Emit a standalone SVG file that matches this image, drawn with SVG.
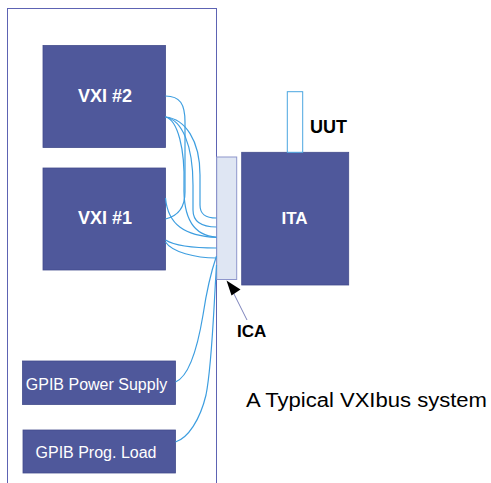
<svg xmlns="http://www.w3.org/2000/svg" width="491" height="483" viewBox="0 0 491 483">
<style>
.box{fill:#4f589b;stroke:#434c8c;stroke-width:0.8}
.lbl{font-family:"Liberation Sans",Arial,sans-serif;fill:#ffffff;text-anchor:middle}
.b{font-weight:bold}
.wire{fill:none;stroke:#3d9ee0;stroke-width:1.2}
.cap{font-family:"Liberation Sans",Arial,sans-serif;fill:#000000}
</style>
<rect width="491" height="483" fill="#ffffff"/>
<g id="frame">
<rect x="7.5" y="8.5" width="209" height="490" fill="none" stroke="#5d63b3" stroke-width="1"/>
</g>
<g id="vxi2">
<rect class="box" x="43" y="45.5" width="122.5" height="102"/>
<text class="lbl b" x="105" y="101.7" font-size="18">VXI #2</text>
</g>
<g id="vxi1">
<rect class="box" x="43" y="168" width="122.5" height="102"/>
<text class="lbl b" x="105" y="224" font-size="18">VXI #1</text>
</g>
<g id="gpib-ps">
<rect class="box" x="22.5" y="361" width="153" height="43.5"/>
<text class="lbl" x="96.5" y="390" font-size="16">GPIB Power Supply</text>
</g>
<g id="gpib-load">
<rect class="box" x="23" y="430" width="152.5" height="43"/>
<text class="lbl" x="96" y="457.5" font-size="16">GPIB Prog. Load</text>
</g>
<g id="ica">
<rect x="216.7" y="157" width="20" height="122.5" fill="#dfe6f3" stroke="#8e96cc" stroke-width="1"/>
</g>
<g id="ita">
<rect class="box" x="241.7" y="152.3" width="107" height="132.7"/>
<text class="lbl b" x="294.5" y="224" font-size="17">ITA</text>
</g>
<g id="uut">
<rect x="287.3" y="91.7" width="15.4" height="60.6" fill="#ffffff" stroke="#4aa6e0" stroke-width="1"/>
<text class="cap b" x="310" y="133.3" font-size="18">UUT</text>
</g>
<g id="connectors">
<path class="wire" d="M165.5,96 C180,96 185,104 185,122 L185,192 C185,208 178,216 165.5,219"/>
<path class="wire" d="M165.5,117 C185,119 200,140 200,175 L200,205 C200,214 205,218 216.5,218"/>
<path class="wire" d="M165.5,117 C182,120 193,145 193,185 L193,210 C193,222 202,227 216.5,227"/>
<path class="wire" d="M165.5,117 C178,120 185,150 184,185 C183,220 195,236 216.5,237"/>
<path class="wire" d="M165.5,198 C168,225 185,236 216.5,237.5"/>
<path class="wire" d="M165.5,240 C175,246 195,248 216.5,248"/>
<path class="wire" d="M165.5,242 C172,252 195,258 216.5,258"/>
<path class="wire" d="M175.5,382 C190,376 198,345 203,315 C206,295 210,275 216.5,256"/>
<path class="wire" d="M175.5,442 C188,438 200,420 206,395 C212,365 213,320 216.5,265"/>
<path d="M247,320 L232,290" fill="none" stroke="#7c82bb" stroke-width="1"/>
<path d="M226.5,280.5 L240.5,289.5 L231.5,295.5 z" fill="#000"/>
</g>
<text class="cap b" x="237" y="336.5" font-size="17">ICA</text>
<text class="cap" x="246" y="407.3" font-size="20" textLength="241" lengthAdjust="spacingAndGlyphs">A Typical VXIbus system</text>
</svg>
